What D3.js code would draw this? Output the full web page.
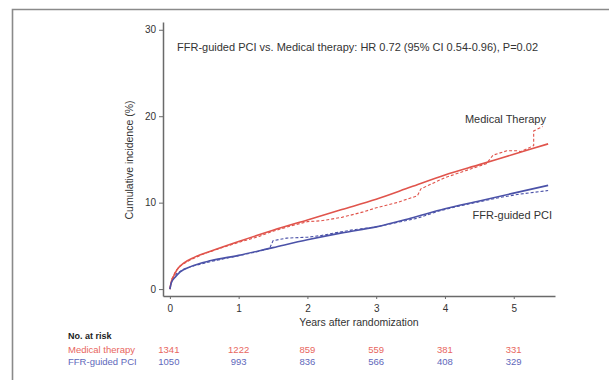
<!DOCTYPE html>
<html>
<head>
<meta charset="utf-8">
<script src="https://cdn.jsdelivr.net/npm/d3@7"></script>
<style>
  html, body { margin: 0; padding: 0; background: #fff; }
  svg { display: block; font-family: "Liberation Sans", Arial, sans-serif; }
</style>
</head>
<body>
<svg id="chart" width="609" height="380"></svg>
<script>
// ---- data ----
const xTicks = [0, 1, 2, 3, 4, 5];
const yTicks = [0, 10, 20, 30];
const seriesNames = ["Medical therapy", "FFR-guided PCI"];
const curveLabels = ["Medical Therapy", "FFR-guided PCI"];

// fitted (solid) curves: [years, cumulative incidence %]
const medicalFit = [[0,0],[0.02,0.8],[0.05,1.4],[0.1,2.2],[0.2,3.0],[0.36,3.7],[0.6,4.4],[1.0,5.5],[1.5,6.8],[2.0,8.0],[2.5,9.2],[3.0,10.4],[3.5,11.8],[4.0,13.2],[4.5,14.4],[5.0,15.6],[5.5,16.8]];
const ffrFit = [[0,0],[0.02,0.7],[0.08,1.4],[0.15,2.0],[0.3,2.6],[0.6,3.3],[1.0,3.9],[1.5,4.8],[2.0,5.7],[2.5,6.5],[3.0,7.2],[3.5,8.2],[4.0,9.3],[4.5,10.2],[5.0,11.1],[5.5,12.0]];

// observed (dashed) curves
const medicalKM = [[0,0],[0.03,1.2],[0.08,2.0],[0.15,2.7],[0.3,3.4],[0.5,4.1],[0.8,4.9],[1.0,5.4],[1.3,6.1],[1.5,6.7],[1.8,7.4],[2.0,7.8],[2.2,7.9],[2.5,8.3],[2.8,8.9],[3.0,9.4],[3.3,10.0],[3.6,10.8],[3.65,11.6],[4.0,12.9],[4.3,13.7],[4.6,14.5],[4.7,15.5],[4.9,16.0],[5.05,16.0],[5.1,15.9],[5.29,16.6],[5.29,18.3],[5.42,18.8]];
const ffrKM = [[0,0],[0.03,1.0],[0.1,1.8],[0.2,2.3],[0.35,2.7],[0.6,3.2],[0.9,3.7],[1.2,4.2],[1.45,4.7],[1.5,5.6],[1.7,5.9],[2.0,6.0],[2.2,6.2],[2.4,6.5],[2.7,6.9],[3.0,7.2],[3.3,7.7],[3.6,8.2],[3.9,9.0],[4.2,9.6],[4.5,10.1],[4.8,10.6],[5.1,11.0],[5.3,11.2],[5.5,11.4]];

const medicalAtRisk = [1341, 1222, 859, 559, 381, 331];
const ffrAtRisk = [1050, 993, 836, 566, 408, 329];

const titleText = "FFR-guided PCI vs. Medical therapy: HR 0.72 (95% CI 0.54-0.96), P=0.02";
const xTitle = "Years after randomization";
const yTitle = "Cumulative incidence (%)";
const atRiskTitle = "No. at risk";

// ---- drawing ----
const RED = "#e0544c", BLUE = "#4b52a8";
const RED_T = "#e8665e", BLUE_T = "#6068bb";
const svg = d3.select("#chart");

// frame
svg.append("path")
  .attr("d", "M12.5,380 L12.5,9.5 L609,9.5")
  .attr("fill", "none").attr("stroke", "#8a8a8a").attr("stroke-width", 1.6);

const x = d3.scaleLinear().domain([-0.1, 5.6]).range([163, 555]);
const y = d3.scaleLinear().domain([-0.8, 30.9]).range([296, 22]);

const gx = svg.append("g").attr("transform", "translate(0,296)")
  .call(d3.axisBottom(x).tickValues(xTicks).tickFormat(d3.format("d"))
    .tickSize(3).tickSizeOuter(0).tickPadding(6));
const gy = svg.append("g").attr("transform", "translate(163,0)")
  .call(d3.axisLeft(y).tickValues(yTicks).tickFormat(d3.format("d"))
    .tickSize(4).tickSizeOuter(0).tickPadding(3));
[gx, gy].forEach(g => {
  g.select(".domain").attr("stroke", "#6a6a6a").attr("stroke-width", 1.5);
  g.selectAll(".tick line").attr("stroke", "#6a6a6a");
  g.selectAll(".tick text").attr("fill", "#333").style("font-size", "10px")
    .style("font-family", "'Liberation Sans', Arial, sans-serif");
});

const lineSmooth = d3.line().x(d => x(d[0])).y(d => y(d[1])).curve(d3.curveMonotoneX);
const lineObs = d3.line().x(d => x(d[0])).y(d => y(d[1])).curve(d3.curveLinear);

svg.append("path").datum(medicalKM).attr("d", lineObs)
  .attr("fill", "none").attr("stroke", RED).attr("stroke-width", 1.1).attr("stroke-dasharray", "3,2");
svg.append("path").datum(ffrKM).attr("d", lineObs)
  .attr("fill", "none").attr("stroke", BLUE).attr("stroke-width", 1.1).attr("stroke-dasharray", "3,2");
svg.append("path").datum(medicalFit).attr("d", lineSmooth)
  .attr("fill", "none").attr("stroke", RED).attr("stroke-width", 1.6);
svg.append("path").datum(ffrFit).attr("d", lineSmooth)
  .attr("fill", "none").attr("stroke", BLUE).attr("stroke-width", 1.6);

// texts
svg.append("text").attr("x", 177).attr("y", 51).attr("fill", "#333")
  .style("font-size", "11px").text(titleText);
svg.append("text").attr("x", 546).attr("y", 123).attr("text-anchor", "end").attr("fill", "#333")
  .style("font-size", "11px").text(curveLabels[0]);
svg.append("text").attr("x", 552).attr("y", 219).attr("text-anchor", "end").attr("fill", "#333")
  .style("font-size", "11px").text(curveLabels[1]);
svg.append("text").attr("x", 359).attr("y", 326).attr("text-anchor", "middle").attr("fill", "#333")
  .style("font-size", "10.5px").text(xTitle);
svg.append("text").attr("transform", "translate(133,160) rotate(-90)").attr("text-anchor", "middle")
  .attr("fill", "#333").style("font-size", "10.5px").text(yTitle);

// number at risk
svg.append("text").attr("x", 68).attr("y", 338.5).attr("fill", "#222")
  .style("font-size", "9px").style("font-weight", "bold").text(atRiskTitle);
svg.append("text").attr("x", 68).attr("y", 352.5).attr("fill", RED_T)
  .style("font-size", "9.5px").text(seriesNames[0]);
svg.append("text").attr("x", 68).attr("y", 364.5).attr("fill", BLUE_T)
  .style("font-size", "9.5px").text(seriesNames[1]);
svg.selectAll("text.arMed").data(medicalAtRisk).enter().append("text")
  .attr("class", "arMed").attr("x", (d, i) => x(xTicks[i]) - (i === 0 ? 1 : 0)).attr("y", 352.5)
  .attr("text-anchor", "middle").attr("fill", RED_T).style("font-size", "9.5px").text(d => d);
svg.selectAll("text.arFfr").data(ffrAtRisk).enter().append("text")
  .attr("class", "arFfr").attr("x", (d, i) => x(xTicks[i]) - (i === 0 ? 1 : 0)).attr("y", 364.5)
  .attr("text-anchor", "middle").attr("fill", BLUE_T).style("font-size", "9.5px").text(d => d);
</script>
</body>
</html>
